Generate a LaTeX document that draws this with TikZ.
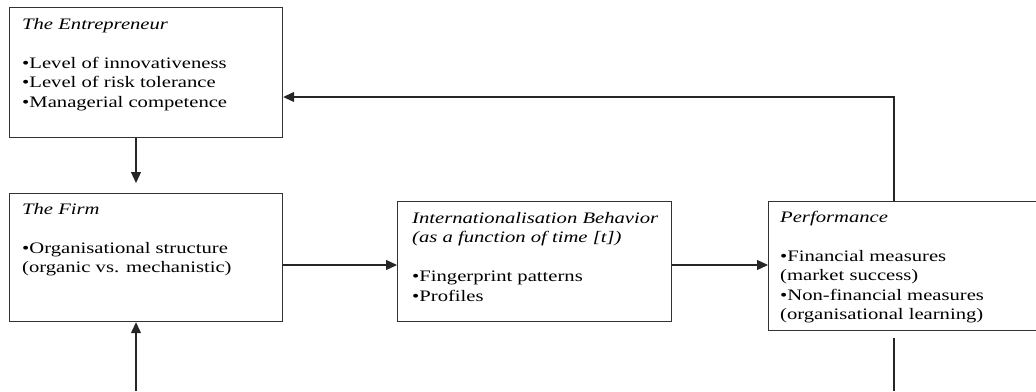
\documentclass[tikz,border=0pt]{standalone}
\usepackage{fontspec}
\setmainfont[FakeStretch=1.29]{Liberation Serif}
\usetikzlibrary{arrows.meta}
\begin{document}
\begin{tikzpicture}[x=1pt,y=-1pt,
  box/.style={draw=black!80, line width=1.2pt, anchor=north west, inner sep=0pt},
  txt/.style={anchor=base west, inner sep=0pt, font=\fontsize{16}{19.5}\selectfont},
  link/.style={draw=black!85, line width=1.2pt, -{Triangle[length=11pt,width=10pt]}},
  plain/.style={draw=black!85, line width=1.2pt}]
\useasboundingbox (0,0) rectangle (1036,391);

% boxes
\node[box, minimum width=273pt, minimum height=130pt] (ent) at (9,7) {};
\node[box, minimum width=273pt, minimum height=128pt] (firm) at (9,193) {};
\node[box, minimum width=274pt, minimum height=120pt] (intl) at (397,201) {};
\node[box, minimum width=290pt, minimum height=129pt] (perf) at (768,201) {};

% box contents
\node[txt] (ent-t) at (22,29) {\parbox[t]{250pt}{\textit{The Entrepreneur}\\[19.5pt]
  •Level of innovativeness\\ •Level of risk tolerance\\ •Managerial competence}};
\node[txt] (firm-t) at (22,214) {\parbox[t]{250pt}{\textit{The Firm}\\[19.5pt]
  •Organisational structure\\ (organic vs. mechanistic)}};
\node[txt] (intl-t) at (412,223) {\parbox[t]{250pt}{\textit{Internationalisation Behavior}\\
  \textit{(as a function of time [t])}\\[19.5pt]
  •Fingerprint patterns\\ •Profiles}};
\node[txt] (perf-t) at (780,222) {\parbox[t]{250pt}{\textit{Performance}\\[19.5pt]
  •Financial measures\\ (market success)\\ •Non-financial measures\\ (organisational learning)}};

% guide coordinates for the connector lines
\coordinate (leftx) at (136,391);
\coordinate (rightx) at (894,391);
\coordinate (rowy) at (0,265);
\coordinate (fb) at (894,97);

% connectors
\draw[link, shorten >=10pt] (leftx |- ent.south) -- (leftx |- firm.north);
\draw[link] (leftx) -- (leftx |- firm.south);
\draw[link] (firm.east |- rowy) -- (intl.west |- rowy);
\draw[link] (intl.east |- rowy) -- (perf.west |- rowy);
\draw[link] (rightx |- perf.north) -- (fb) -- (fb -| ent.east);
\draw[plain, shorten <=7pt] (rightx |- perf.south) -- (rightx);
\end{tikzpicture}
\end{document}
